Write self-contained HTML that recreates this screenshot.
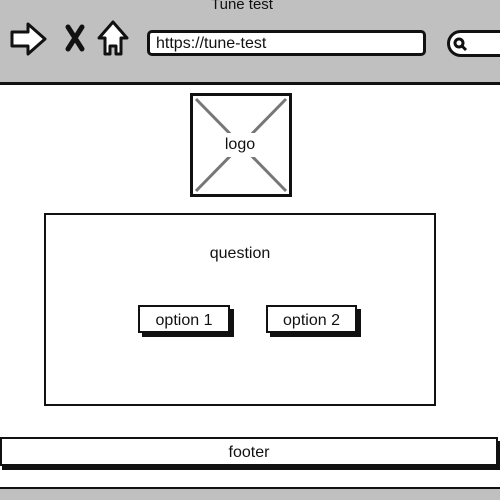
<!DOCTYPE html>
<html><head><style>
body{margin:0;width:500px;height:500px;overflow:hidden;background:#fff;position:relative;font-family:"Liberation Sans",sans-serif;}
div{position:absolute;box-sizing:border-box;}
.t{color:#111;font-size:16px;text-align:center;}
</style></head><body>
<div style="left:0;top:0;width:500px;height:85px;background:#c0c0c0;border-bottom:3px solid #111;"></div>
<div class="t" style="left:0;top:-4px;width:484px;font-size:15px;">Tune test</div>
<svg style="position:absolute;left:0;top:2px" width="140" height="70">
<path d="M12 30 L28 30 L28 22 L45 37 L28 52 L28 44 L12 44 Z" fill="#fff" stroke="#111" stroke-width="3" stroke-linejoin="round"/>
<path d="M68 25 L82 47 M82 25 L68 47" stroke="#111" stroke-width="5" stroke-linecap="round"/>
<path d="M113 20 L127 36 L121 36 L121 52 L116 52 L116 44 L110 44 L110 52 L105 52 L105 36 L99 36 Z" fill="#fff" stroke="#111" stroke-width="3" stroke-linejoin="round"/>
</svg>
<div style="left:147px;top:30px;width:279px;height:26px;background:#fff;border:3px solid #111;border-radius:5px;font-size:16px;padding:2px 0 0 6px;color:#111;">https://tune-test</div>
<div style="left:447px;top:30px;width:70px;height:27px;background:#fff;border:3px solid #111;border-radius:14px;"></div>
<svg style="position:absolute;left:450px;top:34px" width="20" height="20"><circle cx="9" cy="9" r="4" fill="none" stroke="#111" stroke-width="3"/><path d="M12 12 L16 16" stroke="#111" stroke-width="3"/></svg>
<div style="left:190px;top:93px;width:102px;height:104px;border:3px solid #111;background:#fff;"></div>
<svg style="position:absolute;left:193px;top:96px" width="96" height="98"><path d="M3 3 L93 95 M93 3 L3 95" stroke="#777" stroke-width="3"/></svg>
<div class="t" style="left:217px;top:133px;width:46px;height:24px;background:#fff;border-radius:4px;line-height:24px;">logo</div>
<div style="left:44px;top:213px;width:392px;height:193px;border:2px solid #111;"></div>
<div class="t" style="left:140px;top:245px;width:200px;">question</div>
<div style="left:138px;top:305px;width:92px;height:28px;border:2px solid #111;background:#fff;box-shadow:4px 4px 0 #111;font-size:16px;text-align:center;line-height:27px;color:#111;">option 1</div>
<div style="left:266px;top:305px;width:91px;height:28px;border:2px solid #111;background:#fff;box-shadow:4px 4px 0 #111;font-size:16px;text-align:center;line-height:27px;color:#111;">option 2</div>
<div style="left:0;top:437px;width:498px;height:29px;border:2px solid #111;background:#fff;box-shadow:2px 4px 0 #111;font-size:16px;text-align:center;line-height:28px;color:#111;">footer</div>
<div style="left:0;top:487px;width:500px;height:13px;background:#c0c0c0;border-top:2px solid #111;"></div>
</body></html>
